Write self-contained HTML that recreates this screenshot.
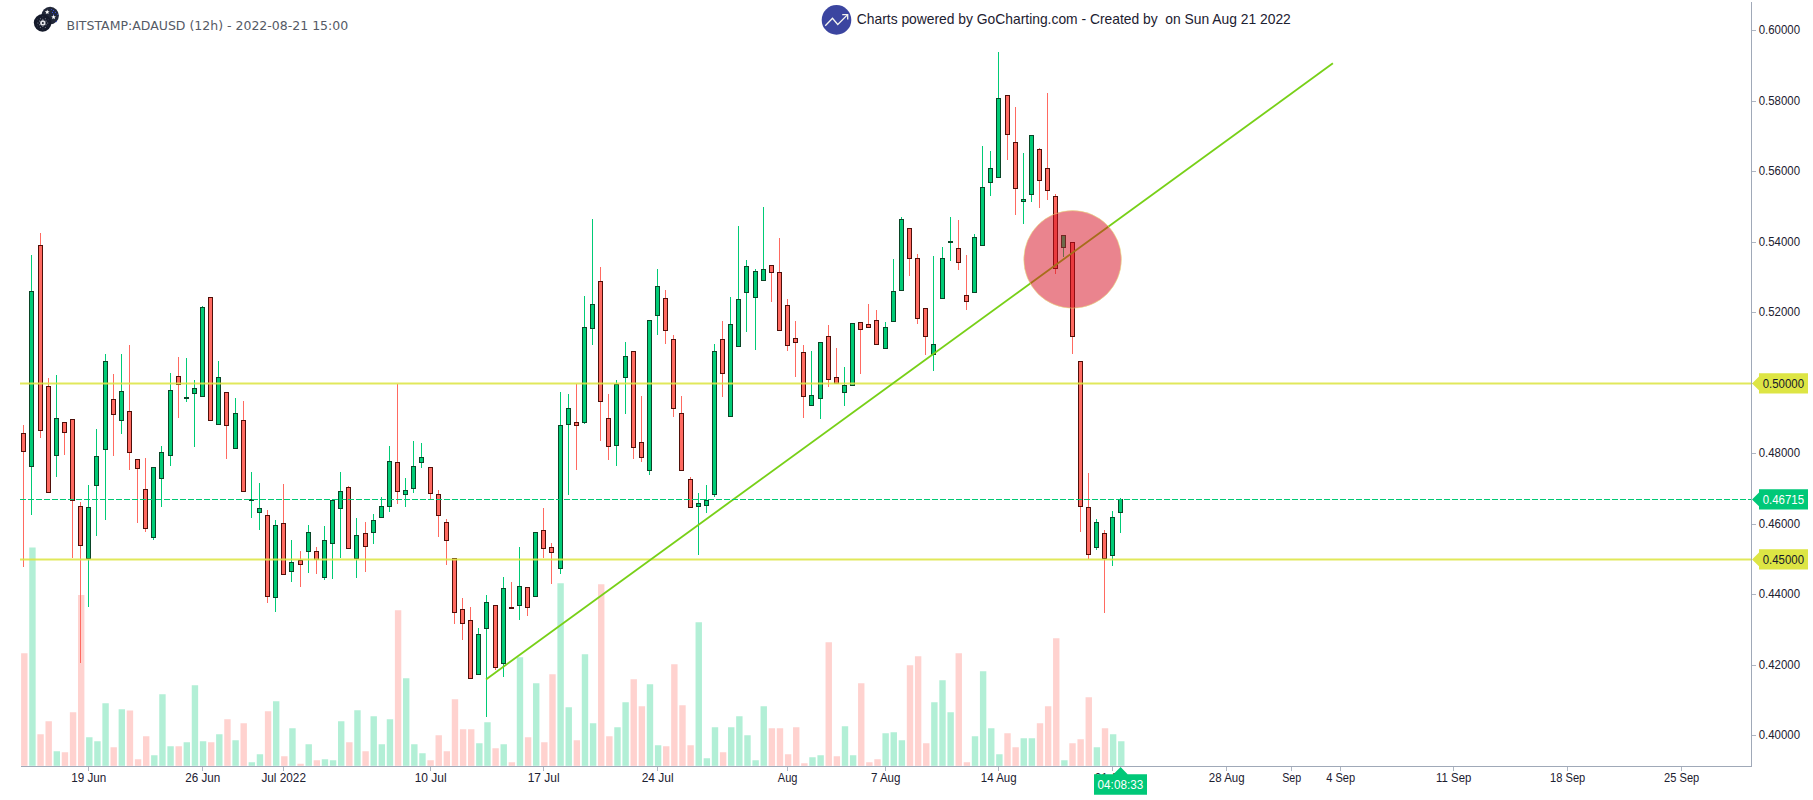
<!DOCTYPE html>
<html lang="en"><head><meta charset="utf-8"><title>BITSTAMP:ADAUSD (12h)</title>
<style>html,body{margin:0;padding:0;background:#fff}body{width:1813px;height:800px;overflow:hidden;position:relative}svg{display:block;position:absolute;left:0;top:0}text{font-family:"Liberation Sans", Arial, sans-serif}.ax{font-size:12.3px;fill:#1c2030}.tk{stroke:#a0a9b8;stroke-width:1;stroke-opacity:.85}</style></head><body>
<svg width="1813" height="800" viewBox="0 0 1813 800">
<g id="volume">
<rect x="21.11" y="653.25" width="6.4" height="112.55" fill="#ffd2cf"/>
<rect x="29.24" y="547.5" width="6.4" height="218.3" fill="#b2efd6"/>
<rect x="37.36" y="734.25" width="6.4" height="31.55" fill="#ffd2cf"/>
<rect x="45.49" y="721.25" width="6.4" height="44.55" fill="#ffd2cf"/>
<rect x="53.61" y="751.25" width="6.4" height="14.55" fill="#b2efd6"/>
<rect x="61.74" y="752.25" width="6.4" height="13.55" fill="#ffd2cf"/>
<rect x="69.86" y="712.25" width="6.4" height="53.55" fill="#ffd2cf"/>
<rect x="77.99" y="595" width="6.4" height="170.8" fill="#ffd2cf"/>
<rect x="86.11" y="737.25" width="6.4" height="28.55" fill="#b2efd6"/>
<rect x="94.24" y="741.25" width="6.4" height="24.55" fill="#b2efd6"/>
<rect x="102.37" y="703.25" width="6.4" height="62.55" fill="#b2efd6"/>
<rect x="110.49" y="747.25" width="6.4" height="18.55" fill="#ffd2cf"/>
<rect x="118.62" y="709.25" width="6.4" height="56.55" fill="#b2efd6"/>
<rect x="126.74" y="710.5" width="6.4" height="55.3" fill="#ffd2cf"/>
<rect x="134.87" y="759.25" width="6.4" height="6.55" fill="#ffd2cf"/>
<rect x="142.99" y="736.25" width="6.4" height="29.55" fill="#ffd2cf"/>
<rect x="151.12" y="755.25" width="6.4" height="10.55" fill="#b2efd6"/>
<rect x="159.25" y="694.25" width="6.4" height="71.55" fill="#b2efd6"/>
<rect x="167.37" y="746.25" width="6.4" height="19.55" fill="#b2efd6"/>
<rect x="175.5" y="746.25" width="6.4" height="19.55" fill="#ffd2cf"/>
<rect x="183.62" y="742.25" width="6.4" height="23.55" fill="#b2efd6"/>
<rect x="191.75" y="685.25" width="6.4" height="80.55" fill="#b2efd6"/>
<rect x="199.87" y="741.25" width="6.4" height="24.55" fill="#b2efd6"/>
<rect x="208" y="742.25" width="6.4" height="23.55" fill="#ffd2cf"/>
<rect x="216.12" y="734.25" width="6.4" height="31.55" fill="#b2efd6"/>
<rect x="224.25" y="719.25" width="6.4" height="46.55" fill="#ffd2cf"/>
<rect x="232.38" y="740.25" width="6.4" height="25.55" fill="#b2efd6"/>
<rect x="240.5" y="723.25" width="6.4" height="42.55" fill="#ffd2cf"/>
<rect x="248.63" y="762.25" width="6.4" height="3.55" fill="#b2efd6"/>
<rect x="256.75" y="754.25" width="6.4" height="11.55" fill="#b2efd6"/>
<rect x="264.88" y="711.25" width="6.4" height="54.55" fill="#ffd2cf"/>
<rect x="273" y="701.25" width="6.4" height="64.55" fill="#b2efd6"/>
<rect x="281.13" y="756.25" width="6.4" height="9.55" fill="#ffd2cf"/>
<rect x="289.26" y="728.25" width="6.4" height="37.55" fill="#b2efd6"/>
<rect x="297.38" y="763.75" width="6.4" height="2.05" fill="#ffd2cf"/>
<rect x="305.51" y="744.25" width="6.4" height="21.55" fill="#b2efd6"/>
<rect x="313.63" y="760.25" width="6.4" height="5.55" fill="#ffd2cf"/>
<rect x="321.76" y="759.25" width="6.4" height="6.55" fill="#b2efd6"/>
<rect x="329.88" y="760.25" width="6.4" height="5.55" fill="#b2efd6"/>
<rect x="338.01" y="721.25" width="6.4" height="44.55" fill="#b2efd6"/>
<rect x="346.13" y="742.25" width="6.4" height="23.55" fill="#ffd2cf"/>
<rect x="354.26" y="710.25" width="6.4" height="55.55" fill="#b2efd6"/>
<rect x="362.39" y="751.25" width="6.4" height="14.55" fill="#ffd2cf"/>
<rect x="370.51" y="716.25" width="6.4" height="49.55" fill="#b2efd6"/>
<rect x="378.64" y="744.25" width="6.4" height="21.55" fill="#b2efd6"/>
<rect x="386.76" y="719.25" width="6.4" height="46.55" fill="#b2efd6"/>
<rect x="394.89" y="610.25" width="6.4" height="155.55" fill="#ffd2cf"/>
<rect x="403.01" y="678.25" width="6.4" height="87.55" fill="#b2efd6"/>
<rect x="411.14" y="744.25" width="6.4" height="21.55" fill="#b2efd6"/>
<rect x="419.26" y="753.25" width="6.4" height="12.55" fill="#b2efd6"/>
<rect x="427.39" y="760.25" width="6.4" height="5.55" fill="#ffd2cf"/>
<rect x="435.52" y="735.25" width="6.4" height="30.55" fill="#ffd2cf"/>
<rect x="443.64" y="751.25" width="6.4" height="14.55" fill="#ffd2cf"/>
<rect x="451.77" y="699.25" width="6.4" height="66.55" fill="#ffd2cf"/>
<rect x="459.89" y="729.25" width="6.4" height="36.55" fill="#ffd2cf"/>
<rect x="468.02" y="729.25" width="6.4" height="36.55" fill="#ffd2cf"/>
<rect x="476.14" y="743.25" width="6.4" height="22.55" fill="#b2efd6"/>
<rect x="484.27" y="722.25" width="6.4" height="43.55" fill="#b2efd6"/>
<rect x="492.4" y="748.25" width="6.4" height="17.55" fill="#ffd2cf"/>
<rect x="500.52" y="744.25" width="6.4" height="21.55" fill="#b2efd6"/>
<rect x="508.65" y="762.25" width="6.4" height="3.55" fill="#ffd2cf"/>
<rect x="516.77" y="657.25" width="6.4" height="108.55" fill="#b2efd6"/>
<rect x="524.9" y="737.25" width="6.4" height="28.55" fill="#ffd2cf"/>
<rect x="533.02" y="683.25" width="6.4" height="82.55" fill="#b2efd6"/>
<rect x="541.15" y="742.25" width="6.4" height="23.55" fill="#ffd2cf"/>
<rect x="549.27" y="674.25" width="6.4" height="91.55" fill="#ffd2cf"/>
<rect x="557.4" y="583.25" width="6.4" height="182.55" fill="#b2efd6"/>
<rect x="565.53" y="707.25" width="6.4" height="58.55" fill="#b2efd6"/>
<rect x="573.65" y="740.25" width="6.4" height="25.55" fill="#ffd2cf"/>
<rect x="581.78" y="654.25" width="6.4" height="111.55" fill="#b2efd6"/>
<rect x="589.9" y="723.25" width="6.4" height="42.55" fill="#b2efd6"/>
<rect x="598.03" y="584.25" width="6.4" height="181.55" fill="#ffd2cf"/>
<rect x="606.15" y="736.25" width="6.4" height="29.55" fill="#ffd2cf"/>
<rect x="614.28" y="727.25" width="6.4" height="38.55" fill="#b2efd6"/>
<rect x="622.4" y="702.25" width="6.4" height="63.55" fill="#b2efd6"/>
<rect x="630.53" y="679.25" width="6.4" height="86.55" fill="#ffd2cf"/>
<rect x="638.66" y="706.25" width="6.4" height="59.55" fill="#ffd2cf"/>
<rect x="646.78" y="684.25" width="6.4" height="81.55" fill="#b2efd6"/>
<rect x="654.91" y="745.25" width="6.4" height="20.55" fill="#b2efd6"/>
<rect x="663.03" y="746.25" width="6.4" height="19.55" fill="#ffd2cf"/>
<rect x="671.16" y="664.25" width="6.4" height="101.55" fill="#ffd2cf"/>
<rect x="679.28" y="705.25" width="6.4" height="60.55" fill="#ffd2cf"/>
<rect x="687.41" y="745.25" width="6.4" height="20.55" fill="#ffd2cf"/>
<rect x="695.54" y="622.25" width="6.4" height="143.55" fill="#b2efd6"/>
<rect x="703.66" y="758.25" width="6.4" height="7.55" fill="#b2efd6"/>
<rect x="711.79" y="727.25" width="6.4" height="38.55" fill="#b2efd6"/>
<rect x="719.91" y="752.25" width="6.4" height="13.55" fill="#ffd2cf"/>
<rect x="728.04" y="727.25" width="6.4" height="38.55" fill="#b2efd6"/>
<rect x="736.16" y="716.25" width="6.4" height="49.55" fill="#b2efd6"/>
<rect x="744.29" y="735.25" width="6.4" height="30.55" fill="#b2efd6"/>
<rect x="752.41" y="760.25" width="6.4" height="5.55" fill="#b2efd6"/>
<rect x="760.54" y="706.25" width="6.4" height="59.55" fill="#b2efd6"/>
<rect x="768.67" y="728.25" width="6.4" height="37.55" fill="#ffd2cf"/>
<rect x="776.79" y="728.25" width="6.4" height="37.55" fill="#ffd2cf"/>
<rect x="784.92" y="754.25" width="6.4" height="11.55" fill="#ffd2cf"/>
<rect x="793.04" y="727.25" width="6.4" height="38.55" fill="#ffd2cf"/>
<rect x="801.17" y="763.25" width="6.4" height="2.55" fill="#ffd2cf"/>
<rect x="809.29" y="757.25" width="6.4" height="8.55" fill="#b2efd6"/>
<rect x="817.42" y="755.25" width="6.4" height="10.55" fill="#b2efd6"/>
<rect x="825.54" y="642.25" width="6.4" height="123.55" fill="#ffd2cf"/>
<rect x="833.67" y="756.25" width="6.4" height="9.55" fill="#ffd2cf"/>
<rect x="841.8" y="726.25" width="6.4" height="39.55" fill="#b2efd6"/>
<rect x="849.92" y="755.25" width="6.4" height="10.55" fill="#b2efd6"/>
<rect x="858.05" y="683.25" width="6.4" height="82.55" fill="#ffd2cf"/>
<rect x="866.17" y="762.25" width="6.4" height="3.55" fill="#ffd2cf"/>
<rect x="874.3" y="759.25" width="6.4" height="6.55" fill="#ffd2cf"/>
<rect x="882.42" y="733.25" width="6.4" height="32.55" fill="#b2efd6"/>
<rect x="890.55" y="732.25" width="6.4" height="33.55" fill="#b2efd6"/>
<rect x="898.67" y="740.25" width="6.4" height="25.55" fill="#b2efd6"/>
<rect x="906.8" y="665.25" width="6.4" height="100.55" fill="#ffd2cf"/>
<rect x="914.93" y="656.25" width="6.4" height="109.55" fill="#ffd2cf"/>
<rect x="923.05" y="743.25" width="6.4" height="22.55" fill="#ffd2cf"/>
<rect x="931.18" y="702.25" width="6.4" height="63.55" fill="#b2efd6"/>
<rect x="939.3" y="680.25" width="6.4" height="85.55" fill="#b2efd6"/>
<rect x="947.43" y="712.25" width="6.4" height="53.55" fill="#b2efd6"/>
<rect x="955.55" y="653.25" width="6.4" height="112.55" fill="#ffd2cf"/>
<rect x="963.68" y="762.25" width="6.4" height="3.55" fill="#ffd2cf"/>
<rect x="971.81" y="736.25" width="6.4" height="29.55" fill="#b2efd6"/>
<rect x="979.93" y="671.25" width="6.4" height="94.55" fill="#b2efd6"/>
<rect x="988.06" y="728.25" width="6.4" height="37.55" fill="#b2efd6"/>
<rect x="996.18" y="754.25" width="6.4" height="11.55" fill="#b2efd6"/>
<rect x="1004.31" y="733.25" width="6.4" height="32.55" fill="#ffd2cf"/>
<rect x="1012.43" y="747.25" width="6.4" height="18.55" fill="#ffd2cf"/>
<rect x="1020.56" y="738.25" width="6.4" height="27.55" fill="#b2efd6"/>
<rect x="1028.68" y="738.25" width="6.4" height="27.55" fill="#b2efd6"/>
<rect x="1036.81" y="723.25" width="6.4" height="42.55" fill="#ffd2cf"/>
<rect x="1044.94" y="706.25" width="6.4" height="59.55" fill="#ffd2cf"/>
<rect x="1053.06" y="638.25" width="6.4" height="127.55" fill="#ffd2cf"/>
<rect x="1061.19" y="760.25" width="6.4" height="5.55" fill="#b2efd6"/>
<rect x="1069.31" y="743.25" width="6.4" height="22.55" fill="#ffd2cf"/>
<rect x="1077.44" y="739.25" width="6.4" height="26.55" fill="#ffd2cf"/>
<rect x="1085.56" y="697.25" width="6.4" height="68.55" fill="#ffd2cf"/>
<rect x="1093.69" y="747.25" width="6.4" height="18.55" fill="#b2efd6"/>
<rect x="1101.82" y="728.25" width="6.4" height="37.55" fill="#ffd2cf"/>
<rect x="1109.94" y="734.25" width="6.4" height="31.55" fill="#b2efd6"/>
<rect x="1118.07" y="741.25" width="6.4" height="24.55" fill="#b2efd6"/>
</g>
<g id="candles">
<line x1="23.5" x2="23.5" y1="425" y2="567" stroke="#ff6a61" stroke-width="1"/>
<rect x="21.5" y="433.5" width="4" height="18" fill="#ff6a61" stroke="#4f0f09" stroke-width="1"/>
<line x1="31.5" x2="31.5" y1="255" y2="515" stroke="#00cb76" stroke-width="1"/>
<rect x="29.5" y="291.5" width="4" height="175" fill="#00cb76" stroke="#0a4527" stroke-width="1"/>
<line x1="40.5" x2="40.5" y1="233" y2="438" stroke="#ff6a61" stroke-width="1"/>
<rect x="38.5" y="245.5" width="4" height="185" fill="#ff6a61" stroke="#4f0f09" stroke-width="1"/>
<line x1="48.5" x2="48.5" y1="378" y2="493" stroke="#ff6a61" stroke-width="1"/>
<rect x="46.5" y="386.5" width="4" height="106" fill="#ff6a61" stroke="#4f0f09" stroke-width="1"/>
<line x1="56.5" x2="56.5" y1="375" y2="477" stroke="#00cb76" stroke-width="1"/>
<rect x="54.5" y="418.5" width="4" height="37" fill="#00cb76" stroke="#0a4527" stroke-width="1"/>
<line x1="64.5" x2="64.5" y1="422" y2="455" stroke="#ff6a61" stroke-width="1"/>
<rect x="62.5" y="422.5" width="4" height="10" fill="#ff6a61" stroke="#4f0f09" stroke-width="1"/>
<line x1="72.5" x2="72.5" y1="419" y2="558" stroke="#ff6a61" stroke-width="1"/>
<rect x="70.5" y="419.5" width="4" height="81" fill="#ff6a61" stroke="#4f0f09" stroke-width="1"/>
<line x1="80.5" x2="80.5" y1="502" y2="663" stroke="#ff6a61" stroke-width="1"/>
<rect x="78.5" y="506.5" width="4" height="39" fill="#ff6a61" stroke="#4f0f09" stroke-width="1"/>
<line x1="88.5" x2="88.5" y1="485" y2="607" stroke="#00cb76" stroke-width="1"/>
<rect x="86.5" y="507.5" width="4" height="51" fill="#00cb76" stroke="#0a4527" stroke-width="1"/>
<line x1="96.5" x2="96.5" y1="429" y2="536" stroke="#00cb76" stroke-width="1"/>
<rect x="94.5" y="456.5" width="4" height="29" fill="#00cb76" stroke="#0a4527" stroke-width="1"/>
<line x1="105.5" x2="105.5" y1="354" y2="520" stroke="#00cb76" stroke-width="1"/>
<rect x="103.5" y="361.5" width="4" height="88" fill="#00cb76" stroke="#0a4527" stroke-width="1"/>
<line x1="113.5" x2="113.5" y1="374" y2="456" stroke="#ff6a61" stroke-width="1"/>
<rect x="111.5" y="399.5" width="4" height="15" fill="#ff6a61" stroke="#4f0f09" stroke-width="1"/>
<line x1="121.5" x2="121.5" y1="354" y2="434" stroke="#00cb76" stroke-width="1"/>
<rect x="119.5" y="391.5" width="4" height="29" fill="#00cb76" stroke="#0a4527" stroke-width="1"/>
<line x1="129.5" x2="129.5" y1="345" y2="470" stroke="#ff6a61" stroke-width="1"/>
<rect x="127.5" y="411.5" width="4" height="41" fill="#ff6a61" stroke="#4f0f09" stroke-width="1"/>
<line x1="137.5" x2="137.5" y1="459" y2="523" stroke="#ff6a61" stroke-width="1"/>
<rect x="135.5" y="459.5" width="4" height="9" fill="#ff6a61" stroke="#4f0f09" stroke-width="1"/>
<line x1="145.5" x2="145.5" y1="458" y2="532" stroke="#ff6a61" stroke-width="1"/>
<rect x="143.5" y="489.5" width="4" height="39" fill="#ff6a61" stroke="#4f0f09" stroke-width="1"/>
<line x1="153.5" x2="153.5" y1="467" y2="540" stroke="#00cb76" stroke-width="1"/>
<rect x="151.5" y="467.5" width="4" height="70" fill="#00cb76" stroke="#0a4527" stroke-width="1"/>
<line x1="161.5" x2="161.5" y1="446" y2="507" stroke="#00cb76" stroke-width="1"/>
<rect x="159.5" y="452.5" width="4" height="26" fill="#00cb76" stroke="#0a4527" stroke-width="1"/>
<line x1="170.5" x2="170.5" y1="373" y2="466" stroke="#00cb76" stroke-width="1"/>
<rect x="168.5" y="390.5" width="4" height="65" fill="#00cb76" stroke="#0a4527" stroke-width="1"/>
<line x1="178.5" x2="178.5" y1="357" y2="418" stroke="#ff6a61" stroke-width="1"/>
<rect x="176.5" y="376.5" width="4" height="8" fill="#ff6a61" stroke="#4f0f09" stroke-width="1"/>
<line x1="186.5" x2="186.5" y1="358" y2="402" stroke="#00cb76" stroke-width="1"/>
<rect x="184" y="397" width="5" height="2" fill="#0a4527"/>
<line x1="194.5" x2="194.5" y1="380" y2="447" stroke="#00cb76" stroke-width="1"/>
<rect x="192.5" y="388.5" width="4" height="5" fill="#00cb76" stroke="#0a4527" stroke-width="1"/>
<line x1="202.5" x2="202.5" y1="306" y2="397" stroke="#00cb76" stroke-width="1"/>
<rect x="200.5" y="307.5" width="4" height="89" fill="#00cb76" stroke="#0a4527" stroke-width="1"/>
<line x1="210.5" x2="210.5" y1="297" y2="421" stroke="#ff6a61" stroke-width="1"/>
<rect x="208.5" y="297.5" width="4" height="123" fill="#ff6a61" stroke="#4f0f09" stroke-width="1"/>
<line x1="218.5" x2="218.5" y1="361" y2="425" stroke="#00cb76" stroke-width="1"/>
<rect x="216.5" y="377.5" width="4" height="47" fill="#00cb76" stroke="#0a4527" stroke-width="1"/>
<line x1="226.5" x2="226.5" y1="392" y2="459" stroke="#ff6a61" stroke-width="1"/>
<rect x="224.5" y="392.5" width="4" height="33" fill="#ff6a61" stroke="#4f0f09" stroke-width="1"/>
<line x1="235.5" x2="235.5" y1="398" y2="449" stroke="#00cb76" stroke-width="1"/>
<rect x="233.5" y="413.5" width="4" height="35" fill="#00cb76" stroke="#0a4527" stroke-width="1"/>
<line x1="243.5" x2="243.5" y1="401" y2="492" stroke="#ff6a61" stroke-width="1"/>
<rect x="241.5" y="420.5" width="4" height="71" fill="#ff6a61" stroke="#4f0f09" stroke-width="1"/>
<line x1="251.5" x2="251.5" y1="472" y2="518" stroke="#00cb76" stroke-width="1"/>
<rect x="249" y="499" width="5" height="2" fill="#0a4527"/>
<line x1="259.5" x2="259.5" y1="483" y2="530" stroke="#00cb76" stroke-width="1"/>
<rect x="257.5" y="508.5" width="4" height="4" fill="#00cb76" stroke="#0a4527" stroke-width="1"/>
<line x1="267.5" x2="267.5" y1="510" y2="603" stroke="#ff6a61" stroke-width="1"/>
<rect x="265.5" y="515.5" width="4" height="81" fill="#ff6a61" stroke="#4f0f09" stroke-width="1"/>
<line x1="275.5" x2="275.5" y1="520" y2="612" stroke="#00cb76" stroke-width="1"/>
<rect x="273.5" y="525.5" width="4" height="72" fill="#00cb76" stroke="#0a4527" stroke-width="1"/>
<line x1="283.5" x2="283.5" y1="484" y2="575" stroke="#ff6a61" stroke-width="1"/>
<rect x="281.5" y="523.5" width="4" height="51" fill="#ff6a61" stroke="#4f0f09" stroke-width="1"/>
<line x1="291.5" x2="291.5" y1="540" y2="582" stroke="#00cb76" stroke-width="1"/>
<rect x="289.5" y="562.5" width="4" height="9" fill="#00cb76" stroke="#0a4527" stroke-width="1"/>
<line x1="300.5" x2="300.5" y1="551" y2="587" stroke="#ff6a61" stroke-width="1"/>
<rect x="298.5" y="560.5" width="4" height="4" fill="#ff6a61" stroke="#4f0f09" stroke-width="1"/>
<line x1="308.5" x2="308.5" y1="525" y2="573" stroke="#00cb76" stroke-width="1"/>
<rect x="306.5" y="532.5" width="4" height="19" fill="#00cb76" stroke="#0a4527" stroke-width="1"/>
<line x1="316.5" x2="316.5" y1="547" y2="574" stroke="#ff6a61" stroke-width="1"/>
<rect x="314.5" y="551.5" width="4" height="8" fill="#ff6a61" stroke="#4f0f09" stroke-width="1"/>
<line x1="324.5" x2="324.5" y1="526" y2="580" stroke="#00cb76" stroke-width="1"/>
<rect x="322.5" y="540.5" width="4" height="37" fill="#00cb76" stroke="#0a4527" stroke-width="1"/>
<line x1="332.5" x2="332.5" y1="500" y2="579" stroke="#00cb76" stroke-width="1"/>
<rect x="330.5" y="500.5" width="4" height="43" fill="#00cb76" stroke="#0a4527" stroke-width="1"/>
<line x1="340.5" x2="340.5" y1="472" y2="558" stroke="#00cb76" stroke-width="1"/>
<rect x="338.5" y="491.5" width="4" height="17" fill="#00cb76" stroke="#0a4527" stroke-width="1"/>
<line x1="348.5" x2="348.5" y1="486" y2="549" stroke="#ff6a61" stroke-width="1"/>
<rect x="346.5" y="487.5" width="4" height="61" fill="#ff6a61" stroke="#4f0f09" stroke-width="1"/>
<line x1="356.5" x2="356.5" y1="518" y2="578" stroke="#00cb76" stroke-width="1"/>
<rect x="354.5" y="535.5" width="4" height="23" fill="#00cb76" stroke="#0a4527" stroke-width="1"/>
<line x1="365.5" x2="365.5" y1="522" y2="572" stroke="#ff6a61" stroke-width="1"/>
<rect x="363.5" y="533.5" width="4" height="13" fill="#ff6a61" stroke="#4f0f09" stroke-width="1"/>
<line x1="373.5" x2="373.5" y1="514" y2="544" stroke="#00cb76" stroke-width="1"/>
<rect x="371.5" y="520.5" width="4" height="12" fill="#00cb76" stroke="#0a4527" stroke-width="1"/>
<line x1="381.5" x2="381.5" y1="497" y2="518" stroke="#00cb76" stroke-width="1"/>
<rect x="379.5" y="506.5" width="4" height="11" fill="#00cb76" stroke="#0a4527" stroke-width="1"/>
<line x1="389.5" x2="389.5" y1="446" y2="512" stroke="#00cb76" stroke-width="1"/>
<rect x="387.5" y="461.5" width="4" height="45" fill="#00cb76" stroke="#0a4527" stroke-width="1"/>
<line x1="397.5" x2="397.5" y1="384" y2="504" stroke="#ff6a61" stroke-width="1"/>
<rect x="395.5" y="462.5" width="4" height="29" fill="#ff6a61" stroke="#4f0f09" stroke-width="1"/>
<line x1="405.5" x2="405.5" y1="478" y2="507" stroke="#00cb76" stroke-width="1"/>
<rect x="403.5" y="490.5" width="4" height="4" fill="#00cb76" stroke="#0a4527" stroke-width="1"/>
<line x1="413.5" x2="413.5" y1="441" y2="493" stroke="#00cb76" stroke-width="1"/>
<rect x="411.5" y="466.5" width="4" height="22" fill="#00cb76" stroke="#0a4527" stroke-width="1"/>
<line x1="421.5" x2="421.5" y1="443" y2="468" stroke="#00cb76" stroke-width="1"/>
<rect x="419.5" y="457.5" width="4" height="5" fill="#00cb76" stroke="#0a4527" stroke-width="1"/>
<line x1="430.5" x2="430.5" y1="467" y2="499" stroke="#ff6a61" stroke-width="1"/>
<rect x="428.5" y="467.5" width="4" height="26" fill="#ff6a61" stroke="#4f0f09" stroke-width="1"/>
<line x1="438.5" x2="438.5" y1="490" y2="537" stroke="#ff6a61" stroke-width="1"/>
<rect x="436.5" y="494.5" width="4" height="21" fill="#ff6a61" stroke="#4f0f09" stroke-width="1"/>
<line x1="446.5" x2="446.5" y1="519" y2="565" stroke="#ff6a61" stroke-width="1"/>
<rect x="444.5" y="522.5" width="4" height="18" fill="#ff6a61" stroke="#4f0f09" stroke-width="1"/>
<line x1="454.5" x2="454.5" y1="558" y2="624" stroke="#ff6a61" stroke-width="1"/>
<rect x="452.5" y="558.5" width="4" height="54" fill="#ff6a61" stroke="#4f0f09" stroke-width="1"/>
<line x1="462.5" x2="462.5" y1="598" y2="640" stroke="#ff6a61" stroke-width="1"/>
<rect x="460.5" y="609.5" width="4" height="14" fill="#ff6a61" stroke="#4f0f09" stroke-width="1"/>
<line x1="470.5" x2="470.5" y1="607" y2="679" stroke="#ff6a61" stroke-width="1"/>
<rect x="468.5" y="620.5" width="4" height="58" fill="#ff6a61" stroke="#4f0f09" stroke-width="1"/>
<line x1="478.5" x2="478.5" y1="628" y2="675" stroke="#00cb76" stroke-width="1"/>
<rect x="476.5" y="634.5" width="4" height="40" fill="#00cb76" stroke="#0a4527" stroke-width="1"/>
<line x1="486.5" x2="486.5" y1="595" y2="717" stroke="#00cb76" stroke-width="1"/>
<rect x="484.5" y="602.5" width="4" height="26" fill="#00cb76" stroke="#0a4527" stroke-width="1"/>
<line x1="495.5" x2="495.5" y1="605" y2="670" stroke="#ff6a61" stroke-width="1"/>
<rect x="493.5" y="605.5" width="4" height="62" fill="#ff6a61" stroke="#4f0f09" stroke-width="1"/>
<line x1="503.5" x2="503.5" y1="577" y2="677" stroke="#00cb76" stroke-width="1"/>
<rect x="501.5" y="588.5" width="4" height="75" fill="#00cb76" stroke="#0a4527" stroke-width="1"/>
<line x1="511.5" x2="511.5" y1="582" y2="609" stroke="#ff6a61" stroke-width="1"/>
<rect x="509" y="607" width="5" height="2" fill="#4f0f09"/>
<line x1="519.5" x2="519.5" y1="547" y2="620" stroke="#00cb76" stroke-width="1"/>
<rect x="517.5" y="586.5" width="4" height="19" fill="#00cb76" stroke="#0a4527" stroke-width="1"/>
<line x1="527.5" x2="527.5" y1="587" y2="616" stroke="#ff6a61" stroke-width="1"/>
<rect x="525.5" y="587.5" width="4" height="20" fill="#ff6a61" stroke="#4f0f09" stroke-width="1"/>
<line x1="535.5" x2="535.5" y1="532" y2="597" stroke="#00cb76" stroke-width="1"/>
<rect x="533.5" y="532.5" width="4" height="64" fill="#00cb76" stroke="#0a4527" stroke-width="1"/>
<line x1="543.5" x2="543.5" y1="508" y2="558" stroke="#ff6a61" stroke-width="1"/>
<rect x="541.5" y="530.5" width="4" height="18" fill="#ff6a61" stroke="#4f0f09" stroke-width="1"/>
<line x1="551.5" x2="551.5" y1="543" y2="584" stroke="#ff6a61" stroke-width="1"/>
<rect x="549.5" y="547.5" width="4" height="5" fill="#ff6a61" stroke="#4f0f09" stroke-width="1"/>
<line x1="560.5" x2="560.5" y1="392" y2="574" stroke="#00cb76" stroke-width="1"/>
<rect x="558.5" y="425.5" width="4" height="143" fill="#00cb76" stroke="#0a4527" stroke-width="1"/>
<line x1="568.5" x2="568.5" y1="394" y2="495" stroke="#00cb76" stroke-width="1"/>
<rect x="566.5" y="408.5" width="4" height="16" fill="#00cb76" stroke="#0a4527" stroke-width="1"/>
<line x1="576.5" x2="576.5" y1="384" y2="470" stroke="#ff6a61" stroke-width="1"/>
<rect x="574.5" y="422.5" width="4" height="3" fill="#ff6a61" stroke="#4f0f09" stroke-width="1"/>
<line x1="584.5" x2="584.5" y1="296" y2="424" stroke="#00cb76" stroke-width="1"/>
<rect x="582.5" y="327.5" width="4" height="95" fill="#00cb76" stroke="#0a4527" stroke-width="1"/>
<line x1="592.5" x2="592.5" y1="219" y2="345" stroke="#00cb76" stroke-width="1"/>
<rect x="590.5" y="304.5" width="4" height="24" fill="#00cb76" stroke="#0a4527" stroke-width="1"/>
<line x1="600.5" x2="600.5" y1="267" y2="441" stroke="#ff6a61" stroke-width="1"/>
<rect x="598.5" y="281.5" width="4" height="120" fill="#ff6a61" stroke="#4f0f09" stroke-width="1"/>
<line x1="608.5" x2="608.5" y1="394" y2="460" stroke="#ff6a61" stroke-width="1"/>
<rect x="606.5" y="418.5" width="4" height="28" fill="#ff6a61" stroke="#4f0f09" stroke-width="1"/>
<line x1="616.5" x2="616.5" y1="380" y2="466" stroke="#00cb76" stroke-width="1"/>
<rect x="614.5" y="384.5" width="4" height="61" fill="#00cb76" stroke="#0a4527" stroke-width="1"/>
<line x1="625.5" x2="625.5" y1="342" y2="414" stroke="#00cb76" stroke-width="1"/>
<rect x="623.5" y="356.5" width="4" height="21" fill="#00cb76" stroke="#0a4527" stroke-width="1"/>
<line x1="633.5" x2="633.5" y1="351" y2="459" stroke="#ff6a61" stroke-width="1"/>
<rect x="631.5" y="351.5" width="4" height="96" fill="#ff6a61" stroke="#4f0f09" stroke-width="1"/>
<line x1="641.5" x2="641.5" y1="396" y2="462" stroke="#ff6a61" stroke-width="1"/>
<rect x="639.5" y="442.5" width="4" height="15" fill="#ff6a61" stroke="#4f0f09" stroke-width="1"/>
<line x1="649.5" x2="649.5" y1="320" y2="475" stroke="#00cb76" stroke-width="1"/>
<rect x="647.5" y="320.5" width="4" height="150" fill="#00cb76" stroke="#0a4527" stroke-width="1"/>
<line x1="657.5" x2="657.5" y1="269" y2="335" stroke="#00cb76" stroke-width="1"/>
<rect x="655.5" y="286.5" width="4" height="29" fill="#00cb76" stroke="#0a4527" stroke-width="1"/>
<line x1="665.5" x2="665.5" y1="290" y2="344" stroke="#ff6a61" stroke-width="1"/>
<rect x="663.5" y="298.5" width="4" height="32" fill="#ff6a61" stroke="#4f0f09" stroke-width="1"/>
<line x1="673.5" x2="673.5" y1="335" y2="417" stroke="#ff6a61" stroke-width="1"/>
<rect x="671.5" y="339.5" width="4" height="69" fill="#ff6a61" stroke="#4f0f09" stroke-width="1"/>
<line x1="681.5" x2="681.5" y1="396" y2="471" stroke="#ff6a61" stroke-width="1"/>
<rect x="679.5" y="413.5" width="4" height="57" fill="#ff6a61" stroke="#4f0f09" stroke-width="1"/>
<line x1="690.5" x2="690.5" y1="477" y2="508" stroke="#ff6a61" stroke-width="1"/>
<rect x="688.5" y="479.5" width="4" height="28" fill="#ff6a61" stroke="#4f0f09" stroke-width="1"/>
<line x1="698.5" x2="698.5" y1="493" y2="555" stroke="#00cb76" stroke-width="1"/>
<rect x="696.5" y="503.5" width="4" height="3" fill="#00cb76" stroke="#0a4527" stroke-width="1"/>
<line x1="706.5" x2="706.5" y1="485" y2="513" stroke="#00cb76" stroke-width="1"/>
<rect x="704.5" y="500.5" width="4" height="5" fill="#00cb76" stroke="#0a4527" stroke-width="1"/>
<line x1="714.5" x2="714.5" y1="344" y2="497" stroke="#00cb76" stroke-width="1"/>
<rect x="712.5" y="351.5" width="4" height="143" fill="#00cb76" stroke="#0a4527" stroke-width="1"/>
<line x1="722.5" x2="722.5" y1="321" y2="397" stroke="#ff6a61" stroke-width="1"/>
<rect x="720.5" y="339.5" width="4" height="34" fill="#ff6a61" stroke="#4f0f09" stroke-width="1"/>
<line x1="730.5" x2="730.5" y1="297" y2="417" stroke="#00cb76" stroke-width="1"/>
<rect x="728.5" y="324.5" width="4" height="92" fill="#00cb76" stroke="#0a4527" stroke-width="1"/>
<line x1="738.5" x2="738.5" y1="226" y2="347" stroke="#00cb76" stroke-width="1"/>
<rect x="736.5" y="299.5" width="4" height="47" fill="#00cb76" stroke="#0a4527" stroke-width="1"/>
<line x1="746.5" x2="746.5" y1="260" y2="332" stroke="#00cb76" stroke-width="1"/>
<rect x="744.5" y="266.5" width="4" height="26" fill="#00cb76" stroke="#0a4527" stroke-width="1"/>
<line x1="755.5" x2="755.5" y1="269" y2="350" stroke="#00cb76" stroke-width="1"/>
<rect x="753.5" y="271.5" width="4" height="26" fill="#00cb76" stroke="#0a4527" stroke-width="1"/>
<line x1="763.5" x2="763.5" y1="207" y2="281" stroke="#00cb76" stroke-width="1"/>
<rect x="761.5" y="269.5" width="4" height="11" fill="#00cb76" stroke="#0a4527" stroke-width="1"/>
<line x1="771.5" x2="771.5" y1="265" y2="302" stroke="#ff6a61" stroke-width="1"/>
<rect x="769.5" y="265.5" width="4" height="7" fill="#ff6a61" stroke="#4f0f09" stroke-width="1"/>
<line x1="779.5" x2="779.5" y1="238" y2="331" stroke="#ff6a61" stroke-width="1"/>
<rect x="777.5" y="272.5" width="4" height="58" fill="#ff6a61" stroke="#4f0f09" stroke-width="1"/>
<line x1="787.5" x2="787.5" y1="299" y2="351" stroke="#ff6a61" stroke-width="1"/>
<rect x="785.5" y="305.5" width="4" height="40" fill="#ff6a61" stroke="#4f0f09" stroke-width="1"/>
<line x1="795.5" x2="795.5" y1="321" y2="377" stroke="#ff6a61" stroke-width="1"/>
<rect x="793.5" y="338.5" width="4" height="4" fill="#ff6a61" stroke="#4f0f09" stroke-width="1"/>
<line x1="803.5" x2="803.5" y1="345" y2="418" stroke="#ff6a61" stroke-width="1"/>
<rect x="801.5" y="352.5" width="4" height="44" fill="#ff6a61" stroke="#4f0f09" stroke-width="1"/>
<line x1="811.5" x2="811.5" y1="351" y2="406" stroke="#00cb76" stroke-width="1"/>
<rect x="809.5" y="395.5" width="4" height="10" fill="#00cb76" stroke="#0a4527" stroke-width="1"/>
<line x1="820.5" x2="820.5" y1="342" y2="419" stroke="#00cb76" stroke-width="1"/>
<rect x="818.5" y="342.5" width="4" height="56" fill="#00cb76" stroke="#0a4527" stroke-width="1"/>
<line x1="828.5" x2="828.5" y1="325" y2="387" stroke="#ff6a61" stroke-width="1"/>
<rect x="826.5" y="336.5" width="4" height="43" fill="#ff6a61" stroke="#4f0f09" stroke-width="1"/>
<line x1="836.5" x2="836.5" y1="348" y2="384" stroke="#ff6a61" stroke-width="1"/>
<rect x="834.5" y="377.5" width="4" height="6" fill="#ff6a61" stroke="#4f0f09" stroke-width="1"/>
<line x1="844.5" x2="844.5" y1="367" y2="406" stroke="#00cb76" stroke-width="1"/>
<rect x="842.5" y="385.5" width="4" height="7" fill="#00cb76" stroke="#0a4527" stroke-width="1"/>
<line x1="852.5" x2="852.5" y1="323" y2="386" stroke="#00cb76" stroke-width="1"/>
<rect x="850.5" y="323.5" width="4" height="62" fill="#00cb76" stroke="#0a4527" stroke-width="1"/>
<line x1="860.5" x2="860.5" y1="322" y2="374" stroke="#ff6a61" stroke-width="1"/>
<rect x="858.5" y="322.5" width="4" height="7" fill="#ff6a61" stroke="#4f0f09" stroke-width="1"/>
<line x1="868.5" x2="868.5" y1="304" y2="328" stroke="#ff6a61" stroke-width="1"/>
<rect x="866.5" y="324.5" width="4" height="3" fill="#ff6a61" stroke="#4f0f09" stroke-width="1"/>
<line x1="876.5" x2="876.5" y1="310" y2="345" stroke="#ff6a61" stroke-width="1"/>
<rect x="874.5" y="320.5" width="4" height="24" fill="#ff6a61" stroke="#4f0f09" stroke-width="1"/>
<line x1="885.5" x2="885.5" y1="322" y2="349" stroke="#00cb76" stroke-width="1"/>
<rect x="883.5" y="327.5" width="4" height="21" fill="#00cb76" stroke="#0a4527" stroke-width="1"/>
<line x1="893.5" x2="893.5" y1="259" y2="322" stroke="#00cb76" stroke-width="1"/>
<rect x="891.5" y="291.5" width="4" height="30" fill="#00cb76" stroke="#0a4527" stroke-width="1"/>
<line x1="901.5" x2="901.5" y1="217" y2="291" stroke="#00cb76" stroke-width="1"/>
<rect x="899.5" y="219.5" width="4" height="71" fill="#00cb76" stroke="#0a4527" stroke-width="1"/>
<line x1="909.5" x2="909.5" y1="228" y2="276" stroke="#ff6a61" stroke-width="1"/>
<rect x="907.5" y="228.5" width="4" height="30" fill="#ff6a61" stroke="#4f0f09" stroke-width="1"/>
<line x1="917.5" x2="917.5" y1="254" y2="324" stroke="#ff6a61" stroke-width="1"/>
<rect x="915.5" y="258.5" width="4" height="60" fill="#ff6a61" stroke="#4f0f09" stroke-width="1"/>
<line x1="925.5" x2="925.5" y1="308" y2="355" stroke="#ff6a61" stroke-width="1"/>
<rect x="923.5" y="308.5" width="4" height="28" fill="#ff6a61" stroke="#4f0f09" stroke-width="1"/>
<line x1="933.5" x2="933.5" y1="256" y2="371" stroke="#00cb76" stroke-width="1"/>
<rect x="931.5" y="344.5" width="4" height="10" fill="#00cb76" stroke="#0a4527" stroke-width="1"/>
<line x1="942.5" x2="942.5" y1="247" y2="299" stroke="#00cb76" stroke-width="1"/>
<rect x="940.5" y="258.5" width="4" height="40" fill="#00cb76" stroke="#0a4527" stroke-width="1"/>
<line x1="950.5" x2="950.5" y1="217" y2="261" stroke="#00cb76" stroke-width="1"/>
<rect x="948" y="241" width="5" height="2" fill="#0a4527"/>
<line x1="958.5" x2="958.5" y1="220" y2="270" stroke="#ff6a61" stroke-width="1"/>
<rect x="956.5" y="248.5" width="4" height="14" fill="#ff6a61" stroke="#4f0f09" stroke-width="1"/>
<line x1="966.5" x2="966.5" y1="255" y2="310" stroke="#ff6a61" stroke-width="1"/>
<rect x="964.5" y="295.5" width="4" height="6" fill="#ff6a61" stroke="#4f0f09" stroke-width="1"/>
<line x1="974.5" x2="974.5" y1="234" y2="293" stroke="#00cb76" stroke-width="1"/>
<rect x="972.5" y="237.5" width="4" height="55" fill="#00cb76" stroke="#0a4527" stroke-width="1"/>
<line x1="982.5" x2="982.5" y1="146" y2="246" stroke="#00cb76" stroke-width="1"/>
<rect x="980.5" y="187.5" width="4" height="58" fill="#00cb76" stroke="#0a4527" stroke-width="1"/>
<line x1="990.5" x2="990.5" y1="151" y2="196" stroke="#00cb76" stroke-width="1"/>
<rect x="988.5" y="168.5" width="4" height="14" fill="#00cb76" stroke="#0a4527" stroke-width="1"/>
<line x1="998.5" x2="998.5" y1="52" y2="178" stroke="#00cb76" stroke-width="1"/>
<rect x="996.5" y="98.5" width="4" height="79" fill="#00cb76" stroke="#0a4527" stroke-width="1"/>
<line x1="1007.5" x2="1007.5" y1="95" y2="160" stroke="#ff6a61" stroke-width="1"/>
<rect x="1005.5" y="95.5" width="4" height="39" fill="#ff6a61" stroke="#4f0f09" stroke-width="1"/>
<line x1="1015.5" x2="1015.5" y1="107" y2="215" stroke="#ff6a61" stroke-width="1"/>
<rect x="1013.5" y="142.5" width="4" height="46" fill="#ff6a61" stroke="#4f0f09" stroke-width="1"/>
<line x1="1023.5" x2="1023.5" y1="153" y2="224" stroke="#00cb76" stroke-width="1"/>
<rect x="1021.5" y="199.5" width="4" height="2" fill="#00cb76" stroke="#0a4527" stroke-width="1"/>
<line x1="1031.5" x2="1031.5" y1="135" y2="202" stroke="#00cb76" stroke-width="1"/>
<rect x="1029.5" y="135.5" width="4" height="59" fill="#00cb76" stroke="#0a4527" stroke-width="1"/>
<line x1="1039.5" x2="1039.5" y1="148" y2="208" stroke="#ff6a61" stroke-width="1"/>
<rect x="1037.5" y="149.5" width="4" height="31" fill="#ff6a61" stroke="#4f0f09" stroke-width="1"/>
<line x1="1047.5" x2="1047.5" y1="93" y2="200" stroke="#ff6a61" stroke-width="1"/>
<rect x="1045.5" y="168.5" width="4" height="22" fill="#ff6a61" stroke="#4f0f09" stroke-width="1"/>
<line x1="1055.5" x2="1055.5" y1="194" y2="274" stroke="#ff6a61" stroke-width="1"/>
<rect x="1053.5" y="196.5" width="4" height="72" fill="#ff6a61" stroke="#4f0f09" stroke-width="1"/>
<line x1="1063.5" x2="1063.5" y1="235" y2="257" stroke="#00cb76" stroke-width="1"/>
<rect x="1061.5" y="235.5" width="4" height="12" fill="#00cb76" stroke="#0a4527" stroke-width="1"/>
<line x1="1072.5" x2="1072.5" y1="242" y2="354" stroke="#ff6a61" stroke-width="1"/>
<rect x="1070.5" y="242.5" width="4" height="94" fill="#ff6a61" stroke="#4f0f09" stroke-width="1"/>
<line x1="1080.5" x2="1080.5" y1="361" y2="532" stroke="#ff6a61" stroke-width="1"/>
<rect x="1078.5" y="361.5" width="4" height="145" fill="#ff6a61" stroke="#4f0f09" stroke-width="1"/>
<line x1="1088.5" x2="1088.5" y1="473" y2="559" stroke="#ff6a61" stroke-width="1"/>
<rect x="1086.5" y="507.5" width="4" height="47" fill="#ff6a61" stroke="#4f0f09" stroke-width="1"/>
<line x1="1096.5" x2="1096.5" y1="519" y2="550" stroke="#00cb76" stroke-width="1"/>
<rect x="1094.5" y="522.5" width="4" height="25" fill="#00cb76" stroke="#0a4527" stroke-width="1"/>
<line x1="1104.5" x2="1104.5" y1="530" y2="613" stroke="#ff6a61" stroke-width="1"/>
<rect x="1102.5" y="533.5" width="4" height="25" fill="#ff6a61" stroke="#4f0f09" stroke-width="1"/>
<line x1="1112.5" x2="1112.5" y1="511" y2="566" stroke="#00cb76" stroke-width="1"/>
<rect x="1110.5" y="517.5" width="4" height="38" fill="#00cb76" stroke="#0a4527" stroke-width="1"/>
<line x1="1120.5" x2="1120.5" y1="498" y2="533" stroke="#00cb76" stroke-width="1"/>
<rect x="1118.5" y="499.5" width="4" height="13" fill="#00cb76" stroke="#0a4527" stroke-width="1"/>
</g>
<g id="hlines">
<line x1="20" x2="1752" y1="383.5" y2="383.5" stroke="#dde544" stroke-width="2.2" stroke-opacity="0.88"/>
<line x1="20" x2="1752" y1="559.5" y2="559.5" stroke="#dde544" stroke-width="2.2" stroke-opacity="0.88"/>
</g>
<line x1="486" y1="679.4" x2="1332.9" y2="63.3" stroke="#78d018" stroke-width="1.85"/>
<line x1="20" x2="1752" y1="499.5" y2="499.5" stroke="#00c873" stroke-width="1" stroke-dasharray="6 2"/>
<circle cx="1072.6" cy="259.4" r="48.8" fill="#d60a1e" fill-opacity="0.5" stroke="#e8e27a" stroke-opacity="0.7" stroke-width="0.8"/>
<g id="axes">
<line x1="21" x2="1752" y1="766.5" y2="766.5" stroke="#a0a9b8" stroke-width="1"/>
<line x1="1751.5" x2="1751.5" y1="2" y2="767" stroke="#a0a9b8" stroke-width="1"/>
<line class="tk" x1="1752" x2="1756" y1="30.5" y2="30.5"/>
<text class="ax" x="1758.7" y="34.05" textLength="41.3" lengthAdjust="spacingAndGlyphs">0.60000</text>
<line class="tk" x1="1752" x2="1756" y1="101.5" y2="101.5"/>
<text class="ax" x="1758.7" y="105.05" textLength="41.3" lengthAdjust="spacingAndGlyphs">0.58000</text>
<line class="tk" x1="1752" x2="1756" y1="171.5" y2="171.5"/>
<text class="ax" x="1758.7" y="175.05" textLength="41.3" lengthAdjust="spacingAndGlyphs">0.56000</text>
<line class="tk" x1="1752" x2="1756" y1="242.5" y2="242.5"/>
<text class="ax" x="1758.7" y="246.05" textLength="41.3" lengthAdjust="spacingAndGlyphs">0.54000</text>
<line class="tk" x1="1752" x2="1756" y1="312.5" y2="312.5"/>
<text class="ax" x="1758.7" y="316.05" textLength="41.3" lengthAdjust="spacingAndGlyphs">0.52000</text>
<line class="tk" x1="1752" x2="1756" y1="383.5" y2="383.5"/>
<line class="tk" x1="1752" x2="1756" y1="453.5" y2="453.5"/>
<text class="ax" x="1758.7" y="457.05" textLength="41.3" lengthAdjust="spacingAndGlyphs">0.48000</text>
<line class="tk" x1="1752" x2="1756" y1="524.5" y2="524.5"/>
<text class="ax" x="1758.7" y="528.05" textLength="41.3" lengthAdjust="spacingAndGlyphs">0.46000</text>
<line class="tk" x1="1752" x2="1756" y1="594.5" y2="594.5"/>
<text class="ax" x="1758.7" y="598.05" textLength="41.3" lengthAdjust="spacingAndGlyphs">0.44000</text>
<line class="tk" x1="1752" x2="1756" y1="665.5" y2="665.5"/>
<text class="ax" x="1758.7" y="669.05" textLength="41.3" lengthAdjust="spacingAndGlyphs">0.42000</text>
<line class="tk" x1="1752" x2="1756" y1="735.5" y2="735.5"/>
<text class="ax" x="1758.7" y="739.05" textLength="41.3" lengthAdjust="spacingAndGlyphs">0.40000</text>
<line class="tk" x1="88.5" x2="88.5" y1="767" y2="771"/>
<text class="ax" x="71.2" y="782" textLength="35" lengthAdjust="spacingAndGlyphs">19 Jun</text>
<line class="tk" x1="202.5" x2="202.5" y1="767" y2="771"/>
<text class="ax" x="185.2" y="782" textLength="35" lengthAdjust="spacingAndGlyphs">26 Jun</text>
<line class="tk" x1="283.5" x2="283.5" y1="767" y2="771"/>
<text class="ax" x="261.42" y="782" textLength="44.57" lengthAdjust="spacingAndGlyphs">Jul 2022</text>
<line class="tk" x1="430.5" x2="430.5" y1="767" y2="771"/>
<text class="ax" x="414.7" y="782" textLength="31.99" lengthAdjust="spacingAndGlyphs">10 Jul</text>
<line class="tk" x1="543.5" x2="543.5" y1="767" y2="771"/>
<text class="ax" x="527.7" y="782" textLength="31.99" lengthAdjust="spacingAndGlyphs">17 Jul</text>
<line class="tk" x1="657.5" x2="657.5" y1="767" y2="771"/>
<text class="ax" x="641.7" y="782" textLength="31.99" lengthAdjust="spacingAndGlyphs">24 Jul</text>
<line class="tk" x1="787.5" x2="787.5" y1="767" y2="771"/>
<text class="ax" x="777.87" y="782" textLength="19.66" lengthAdjust="spacingAndGlyphs">Aug</text>
<line class="tk" x1="885.5" x2="885.5" y1="767" y2="771"/>
<text class="ax" x="870.92" y="782" textLength="29.56" lengthAdjust="spacingAndGlyphs">7 Aug</text>
<line class="tk" x1="998.5" x2="998.5" y1="767" y2="771"/>
<text class="ax" x="980.78" y="782" textLength="35.84" lengthAdjust="spacingAndGlyphs">14 Aug</text>
<line class="tk" x1="1112.5" x2="1112.5" y1="767" y2="771"/>
<text class="ax" x="1094.78" y="782" textLength="35.84" lengthAdjust="spacingAndGlyphs">21 Aug</text>
<line class="tk" x1="1226.5" x2="1226.5" y1="767" y2="771"/>
<text class="ax" x="1208.78" y="782" textLength="35.84" lengthAdjust="spacingAndGlyphs">28 Aug</text>
<line class="tk" x1="1291.5" x2="1291.5" y1="767" y2="771"/>
<text class="ax" x="1282.2" y="782" textLength="19" lengthAdjust="spacingAndGlyphs">Sep</text>
<line class="tk" x1="1340.5" x2="1340.5" y1="767" y2="771"/>
<text class="ax" x="1326.25" y="782" textLength="28.9" lengthAdjust="spacingAndGlyphs">4 Sep</text>
<line class="tk" x1="1453.5" x2="1453.5" y1="767" y2="771"/>
<text class="ax" x="1436.11" y="782" textLength="35.18" lengthAdjust="spacingAndGlyphs">11 Sep</text>
<line class="tk" x1="1567.5" x2="1567.5" y1="767" y2="771"/>
<text class="ax" x="1550.11" y="782" textLength="35.18" lengthAdjust="spacingAndGlyphs">18 Sep</text>
<line class="tk" x1="1681.5" x2="1681.5" y1="767" y2="771"/>
<text class="ax" x="1664.11" y="782" textLength="35.18" lengthAdjust="spacingAndGlyphs">25 Sep</text>
</g>
<g id="plabels">
<path d="M1752 383.4 L1759 376.5 L1759 373.2 L1808 373.2 L1808 393.6 L1759 393.6 L1759 390.3 Z" fill="#dde544"/><text x="1762.7" y="387.8" font-size="12.3" fill="#14182a" textLength="41.3" lengthAdjust="spacingAndGlyphs">0.50000</text>
<path d="M1752 559.4 L1759 552.5 L1759 549.2 L1808 549.2 L1808 569.6 L1759 569.6 L1759 566.3 Z" fill="#dde544"/><text x="1762.7" y="563.8" font-size="12.3" fill="#14182a" textLength="41.3" lengthAdjust="spacingAndGlyphs">0.45000</text>
<path d="M1752 499.4 L1759 492.5 L1759 489.2 L1808 489.2 L1808 509.6 L1759 509.6 L1759 506.3 Z" fill="#00c878"/><text x="1762.7" y="503.8" font-size="12.3" fill="#ffffff" textLength="41.3" lengthAdjust="spacingAndGlyphs">0.46715</text>
</g>
<g id="countdown"><path d="M1094 774.3 L1113.4 774.3 L1120.6 767 L1127.6 774.3 L1147 774.3 L1147 794.8 L1094 794.8 Z" fill="#00c878"/><text x="1097.6" y="788.9" font-size="12.3" fill="#fff" textLength="45.6" lengthAdjust="spacingAndGlyphs">04:08:33</text></g>
<g id="pairicon">
<circle cx="50.1" cy="15.6" r="8.8" fill="#222839"/>
<polygon points="47.20,9.60 47.82,11.25 49.58,11.33 48.20,12.42 48.67,14.12 47.20,13.15 45.73,14.12 46.20,12.42 44.82,11.33 46.58,11.25" fill="#fff"/>
<polygon points="53.60,14.70 54.22,16.35 55.98,16.43 54.60,17.52 55.07,19.22 53.60,18.25 52.13,19.22 52.60,17.52 51.22,16.43 52.98,16.35" fill="#fff"/>
<circle cx="51.4" cy="9.45" r="0.55" fill="#3a50e0"/>
<circle cx="53.5" cy="10.5" r="0.55" fill="#3a50e0"/>
<circle cx="52.5" cy="12.4" r="0.55" fill="#3a50e0"/>
<circle cx="55.4" cy="12.4" r="0.55" fill="#3a50e0"/>
<circle cx="53.5" cy="14.3" r="0.55" fill="#3a50e0"/>
<circle cx="57.4" cy="14.3" r="0.55" fill="#3a50e0"/>
<circle cx="56.3" cy="21.6" r="0.55" fill="#3a50e0"/>
<circle cx="42.6" cy="22.85" r="8.8" fill="#151a2b"/>
<circle cx="42.85" cy="22.9" r="1.85" fill="none" stroke="#e4e5ea" stroke-width="1.7"/>
<circle cx="42.85" cy="26.50" r="0.5" fill="#c6c8d2"/>
<circle cx="47.75" cy="22.90" r="0.5" fill="#a3a7b5"/>
<circle cx="42.85" cy="29.00" r="0.42" fill="#5d637b"/>
<circle cx="39.73" cy="24.70" r="0.5" fill="#c6c8d2"/>
<circle cx="45.30" cy="27.14" r="0.5" fill="#a3a7b5"/>
<circle cx="37.57" cy="25.95" r="0.42" fill="#5d637b"/>
<circle cx="39.73" cy="21.10" r="0.5" fill="#c6c8d2"/>
<circle cx="40.40" cy="27.14" r="0.5" fill="#a3a7b5"/>
<circle cx="37.57" cy="19.85" r="0.42" fill="#5d637b"/>
<circle cx="42.85" cy="19.30" r="0.5" fill="#c6c8d2"/>
<circle cx="37.95" cy="22.90" r="0.5" fill="#a3a7b5"/>
<circle cx="42.85" cy="16.80" r="0.42" fill="#5d637b"/>
<circle cx="45.97" cy="21.10" r="0.5" fill="#c6c8d2"/>
<circle cx="40.40" cy="18.66" r="0.5" fill="#a3a7b5"/>
<circle cx="48.13" cy="19.85" r="0.42" fill="#5d637b"/>
<circle cx="45.97" cy="24.70" r="0.5" fill="#c6c8d2"/>
<circle cx="45.30" cy="18.66" r="0.5" fill="#a3a7b5"/>
<circle cx="48.13" cy="25.95" r="0.42" fill="#5d637b"/>
</g>
<text x="66.6" y="29.6" font-size="12" fill="#555a66" textLength="281.6" lengthAdjust="spacingAndGlyphs" style="font-family:'DejaVu Sans',Verdana,sans-serif">BITSTAMP:ADAUSD (12h) - 2022-08-21 15:00</text>
<g id="brand"><circle cx="836.5" cy="19.9" r="14.8" fill="#3b45a0"/><polyline points="825.25,25.75 832.5,18.25 837.75,24.5 847.4,14.9" fill="none" stroke="#f6f6ef" stroke-width="1.3" stroke-linejoin="miter"/><polyline points="842.25,14.6 847.7,14.6 847.7,19.6" fill="none" stroke="#f6f6ef" stroke-width="1.3"/></g>
<text x="856.8" y="23.7" font-size="14.5" fill="#1c2030" textLength="434" lengthAdjust="spacingAndGlyphs" xml:space="preserve" style="white-space:pre">Charts powered by GoCharting.com - Created by  on Sun Aug 21 2022</text>
</svg></body></html>
